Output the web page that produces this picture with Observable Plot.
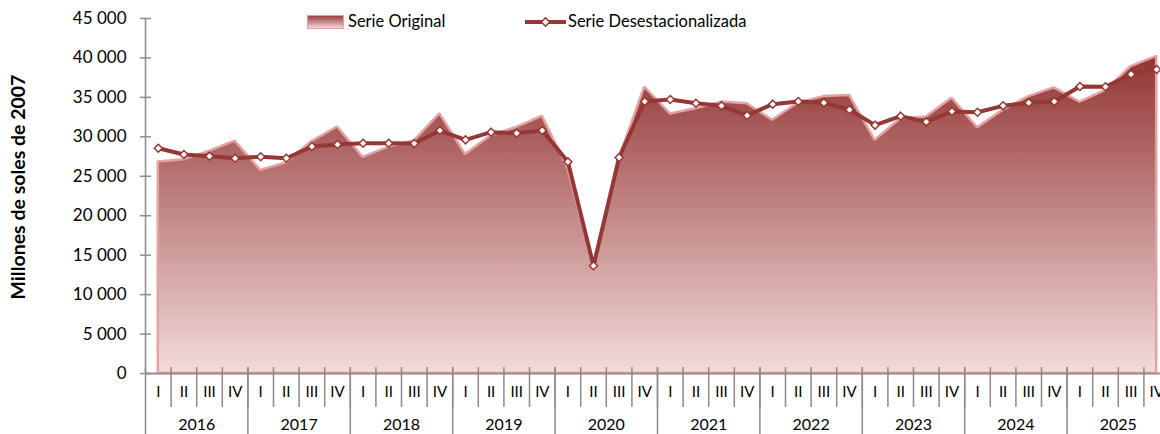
<!DOCTYPE html>
<html>
<head>
<meta charset="utf-8">
<script src="https://cdn.jsdelivr.net/npm/d3@7"></script>
<script src="https://cdn.jsdelivr.net/npm/@observablehq/plot@0.6"></script>
<style>
  html, body { margin: 0; padding: 0; background: #fff; }
  #wrap { position: relative; width: 1160px; height: 434px; overflow: hidden; font-family: Lato, "Open Sans", sans-serif; }
  .leg { position: absolute; font-size: 16.5px; color: #000; line-height: 1; }
</style>
</head>
<body>
<div id="wrap">
  <div id="chart"></div>
  <div class="leg" style="left:307px;top:15px;width:35px;height:12px;border:1.5px solid #e3a0a0;background:linear-gradient(#9a4040,#f0d8d8);"></div>
  <div class="leg" style="left:348px;top:13px;">Serie Original</div>
  <svg class="leg" style="left:524px;top:14px;" width="44" height="16">
    <line x1="1" y1="8" x2="42" y2="8" stroke="#953735" stroke-width="4"/>
    <path d="M21.5,3.8L25.7,8L21.5,12.2L17.3,8Z" fill="#fff" stroke="#953735" stroke-width="1.5"/>
  </svg>
  <div class="leg" style="left:568px;top:13px;">Serie Desestacionalizada</div>
</div>
<script>
// ---- data ----
const years = [2016, 2017, 2018, 2019, 2020, 2021, 2022, 2023, 2024, 2025];
const quarterLabels = ["I", "II", "III", "IV"];
const serieOriginal = [
  26800, 27100, 28150, 29450,
  25750, 26700, 29400, 31250,
  27400, 28700, 29500, 32900,
  27750, 30150, 31200, 32600,
  26000, 13500, 27200, 36300,
  32900, 33550, 34400, 34200,
  32100, 34300, 35100, 35250,
  29550, 32300, 32500, 34900,
  31150, 33350, 35100, 36200,
  34400, 35850, 38900, 40200
];
const serieDesest = [
  28560, 27760, 27550, 27290,
  27470, 27290, 28770, 29030,
  29190, 29190, 29150, 30800,
  29620, 30590, 30460, 30800,
  26830, 13650, 27380, 34480,
  34730, 34260, 33930, 32700,
  34140, 34480, 34310, 33430,
  31480, 32620, 31900, 33210,
  33120, 33930, 34310, 34480,
  36380, 36340, 37940, 38540
];
const yTicks = [0, 5000, 10000, 15000, 20000, 25000, 30000, 35000, 40000, 45000];
const yTitle = "Millones de soles de 2007";

// ---- build table ----
const rows = [];
years.forEach((yr, yi) => quarterLabels.forEach((q, qi) => {
  const i = yi * 4 + qi;
  rows.push({i, pos: i + 0.5, year: yr, q, orig: serieOriginal[i], sa: serieDesest[i]});
}));
const n = rows.length;
const fmt = v => d3.format(",")(v).replace(/,/g, " ");

const gradDefs = () => {
  const ns = "http://www.w3.org/2000/svg";
  const defs = document.createElementNS(ns, "defs");
  const lg = document.createElementNS(ns, "linearGradient");
  lg.setAttribute("id", "origGrad");
  lg.setAttribute("x1", "0"); lg.setAttribute("y1", "0");
  lg.setAttribute("x2", "0"); lg.setAttribute("y2", "1");
  [["0%", "#923533"], ["100%", "#f2dcdb"]].forEach(([o, c]) => {
    const s = document.createElementNS(ns, "stop");
    s.setAttribute("offset", o); s.setAttribute("stop-color", c);
    lg.appendChild(s);
  });
  defs.appendChild(lg);
  return defs;
};

const tickColor = "#8c8c8c";
const chart = Plot.plot({
  width: 1160,
  height: 434,
  marginTop: 18,
  marginBottom: 61,
  marginLeft: 145,
  marginRight: 0,
  style: {fontFamily: "Lato, 'Open Sans', sans-serif", color: "#000", background: "#fff"},
  x: {domain: [0, n], range: [145, 1169], axis: null},
  y: {domain: [0, 45000], axis: null},
  marks: [
    gradDefs,
    Plot.areaY(rows, {x: "pos", y: "orig", fill: "url(#origGrad)", stroke: "#e4a2a2", strokeWidth: 2.5, strokeLinejoin: "miter"}),
    Plot.ruleY([0], {stroke: "#a38a8a", strokeWidth: 2}),
    Plot.ruleX([0], {stroke: tickColor, strokeWidth: 1.5}),
    // y axis
    Plot.axisY(yTicks, {label: null, tickSize: 11, dx: 6, stroke: tickColor, strokeWidth: 1.5, tickFormat: () => ""}),
    Plot.axisY(yTicks, {label: null, tickSize: 0, tickPadding: 19, tickFormat: fmt, fontSize: 17, fill: "#000"}),
    // x axis separators
    Plot.axisX(d3.range(1, n), {label: null, tickSize: 40, dy: -6, stroke: tickColor, strokeWidth: 1.5, tickFormat: () => ""}),
    Plot.axisX(d3.range(0, n + 1, 4), {label: null, tickSize: 67, dy: -6, stroke: tickColor, strokeWidth: 1.5, tickFormat: () => ""}),
    // x labels
    Plot.axisX(rows.map(d => d.pos), {label: null, tickSize: 0, tickPadding: 13, fontSize: 15, fill: "#000",
      tickFormat: p => quarterLabels[Math.floor(p) % 4]}),
    Plot.axisX(years.map((y, k) => k * 4 + 2), {label: null, tickSize: 0, tickPadding: 45, fontSize: 16, fill: "#000",
      tickFormat: p => String(years[Math.floor(p / 4)])}),
    // y title
    Plot.text([yTitle], {frameAnchor: "left", textAnchor: "middle", rotate: -90, dx: -127, dy: -9, fontSize: 19.5, fontWeight: "bold", fill: "#000"}),
    // seasonally adjusted series
    Plot.lineY(rows, {x: "pos", y: "sa", stroke: "#953735", strokeWidth: 4}),
    Plot.dot(rows, {x: "pos", y: "sa", symbol: "diamond2", r: 3.6, fill: "#fff", stroke: "#953735", strokeWidth: 1.5})
  ]
});
document.getElementById("chart").appendChild(chart);
</script>
</body>
</html>
